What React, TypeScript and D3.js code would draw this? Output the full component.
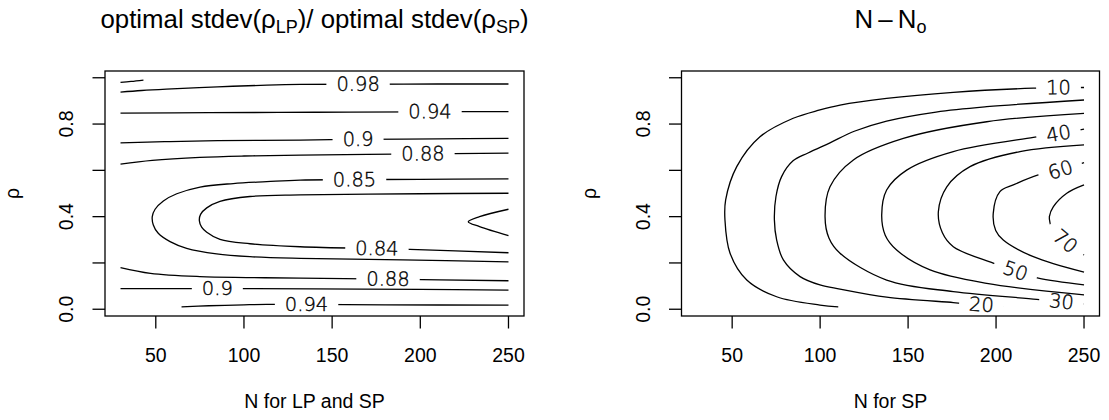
import React from "react";
import * as d3 from "d3";

type Pt = [number, number];

// ---------- data ----------
const N_RANGE: Pt = [30, 250];
const RHO_RANGE: Pt = [0.01, 0.99];
const X_TICKS = [50, 100, 150, 200, 250];
const Y_TICKS = [0, 0.2, 0.4, 0.6, 0.8, 1.0];
const Y_TICK_LABELS = ["0.0", "", "0.4", "", "0.8", ""];

// Left panel: optimal stdev ratio contours (N, rho)
const ratio099: Pt[] = [[30, 0.98], [36, 0.984], [43, 0.99]];
const ratio098: Pt[] = [[30, 0.938], [42, 0.945], [56, 0.951], [85, 0.961], [113, 0.968], [132, 0.971], [165, 0.972], [210, 0.973], [250, 0.973]];
const ratio094Upper: Pt[] = [[30, 0.847], [80, 0.849], [140, 0.851], [200, 0.853], [250, 0.854]];
const ratio090Upper: Pt[] = [[30, 0.719], [55, 0.724], [85, 0.728], [132, 0.731], [165, 0.734], [210, 0.736], [250, 0.738]];
const ratio088Upper: Pt[] = [[30, 0.627], [48, 0.643], [75, 0.656], [100, 0.662], [132, 0.666], [200, 0.671], [250, 0.674]];
const ratio085: Pt[] = [[250, 0.563], [200, 0.561], [131.8, 0.558], [112.9, 0.551], [93.9, 0.543], [75.1, 0.528], [61.9, 0.499], [54.3, 0.468], [49.6, 0.432], [48.0, 0.4], [48.6, 0.364], [51.4, 0.328], [58.1, 0.292], [67.5, 0.263], [84.5, 0.239], [103.4, 0.227], [131.8, 0.22], [190, 0.213], [250, 0.205]];
const ratio084: Pt[] = [[250, 0.501], [200, 0.499], [131.8, 0.494], [103.4, 0.487], [86.4, 0.466], [78.9, 0.438], [75.4, 0.41], [74.7, 0.383], [76, 0.355], [78.9, 0.333], [86.4, 0.302], [103.4, 0.283], [131.8, 0.27], [175, 0.262], [194.1, 0.259], [250, 0.244]];
const ratio083: Pt[] = [[250, 0.432], [233.6, 0.4], [227.2, 0.378], [233.6, 0.357], [250, 0.318]];
const ratio088Lower: Pt[] = [[30, 0.18], [47, 0.155], [75, 0.141], [103, 0.137], [132, 0.134], [181.7, 0.13], [250, 0.123]];
const ratio090Lower: Pt[] = [[30, 0.089], [85, 0.089], [140, 0.088], [200, 0.086], [250, 0.083]];
const ratio094Lower: Pt[] = [[64.6, 0.01], [80, 0.015], [100, 0.019], [113, 0.021], [135.5, 0.021], [180, 0.019], [250, 0.018]];

// Right panel: N - No contours (N, rho)
const diff10: Pt[] = [[250, 0.958], [235.5, 0.957], [221.2, 0.955], [175.7, 0.937], [137.8, 0.911], [111.3, 0.882], [99.9, 0.861], [84.7, 0.825], [65.8, 0.745], [52.6, 0.616], [46.3, 0.472], [45.9, 0.386], [48.8, 0.242], [58.3, 0.126], [75.3, 0.054], [99.9, 0.018], [110.3, 0.01]];
const diff20: Pt[] = [[250, 0.904], [194.7, 0.875], [165.9, 0.852], [137.8, 0.813], [119.8, 0.77], [105.6, 0.719], [93.1, 0.675], [84.6, 0.641], [78.1, 0.573], [74.9, 0.487], [74.0, 0.386], [75.3, 0.299], [79.1, 0.213], [88.6, 0.141], [99.9, 0.105], [111.3, 0.087], [137.8, 0.052], [175.7, 0.029], [181, 0.025], [191.7, 0.019], [204, 0.01]];
const diff30: Pt[] = [[250, 0.846], [194.7, 0.81], [147.3, 0.738], [118.9, 0.645], [105.6, 0.529], [102.8, 0.399], [105.0, 0.308], [111.3, 0.242], [137.8, 0.126], [175.7, 0.076], [223.1, 0.043], [237.2, 0.032], [250, 0.023]];
const diff40: Pt[] = [[250, 0.778], [235.5, 0.758], [221.2, 0.742], [175.7, 0.681], [149.2, 0.601], [137.8, 0.515], [135.0, 0.407], [137, 0.32], [143.5, 0.256], [162.5, 0.17], [194.7, 0.112], [250, 0.062]];
const diff50: Pt[] = [[250, 0.71], [213.6, 0.681], [185.2, 0.616], [172.0, 0.529], [167.2, 0.421], [169.5, 0.33], [175.7, 0.27], [198.4, 0.199], [211, 0.165], [224.0, 0.134], [250, 0.105]];
const diff60: Pt[] = [[250, 0.633], [236.6, 0.601], [224.0, 0.58], [209.8, 0.537], [202.2, 0.508], [198.4, 0.414], [199.8, 0.34], [204.1, 0.299], [221.2, 0.227], [250, 0.16]];
const diff70: Pt[] = [[250, 0.537], [240.2, 0.501], [232.6, 0.443], [230.3, 0.4], [230.7, 0.372], [231.8, 0.351], [236.9, 0.308], [243.7, 0.265], [250, 0.235]];

interface Contour { pts: Pt[]; text?: string; at?: Pt }

const LEFT_CONTOURS: Contour[] = [
  { pts: ratio099 },
  { pts: ratio098, text: "0.98", at: [164.7, 0.971] },
  { pts: ratio094Upper, text: "0.94", at: [205.5, 0.853] },
  { pts: ratio090Upper, text: "0.9", at: [164.7, 0.734] },
  { pts: ratio088Upper, text: "0.88", at: [201.5, 0.671] },
  { pts: ratio085, text: "0.85", at: [162.7, 0.558] },
  { pts: ratio084, text: "0.84", at: [175.4, 0.262] },
  { pts: ratio083 },
  { pts: ratio088Lower, text: "0.88", at: [181.7, 0.13] },
  { pts: ratio090Lower, text: "0.9", at: [84.9, 0.088] },
  { pts: ratio094Lower, text: "0.94", at: [135.5, 0.021] },
];

const RIGHT_CONTOURS: Contour[] = [
  { pts: diff10, text: "10", at: [235.5, 0.957] },
  { pts: diff20, text: "20", at: [191.7, 0.019] },
  { pts: diff30, text: "30", at: [237.2, 0.032] },
  { pts: diff40, text: "40", at: [235.5, 0.758] },
  { pts: diff50, text: "50", at: [211, 0.165] },
  { pts: diff60, text: "60", at: [236.6, 0.601] },
  { pts: diff70, text: "70", at: [239.5, 0.295] },
];

// ---------- layout ----------
const W = 1109;
const H = 420;
const PLOT_TOP = 71;
const PLOT_BOTTOM = 316;
const SANS = "'Liberation Sans', Arial, Helvetica, sans-serif";
const LABEL_FONT = "'DejaVu Sans', sans-serif";
const AXIS_FS = 19.5;
const LABEL_FS = 19.5;
const TITLE_FS = 25.8;
const SUB_FS = 18;

function pad(r: Pt): Pt {
  const d = (r[1] - r[0]) * 0.04;
  return [r[0] - d, r[1] + d];
}

function labelWidth(t: string) {
  let w = 0;
  for (const c of t) w += c === "." ? 0.318 : 0.636;
  return w * LABEL_FS;
}

function placeOn(px: Pt[], p: Pt) {
  let best = { d: Infinity, x: p[0], y: p[1], ang: 0 };
  for (let i = 0; i < px.length - 1; i++) {
    const [ax, ay] = px[i];
    const [bx, by] = px[i + 1];
    const dx = bx - ax, dy = by - ay;
    const L = dx * dx + dy * dy;
    let t = L > 0 ? ((p[0] - ax) * dx + (p[1] - ay) * dy) / L : 0;
    t = Math.max(0, Math.min(1, t));
    const qx = ax + t * dx, qy = ay + t * dy;
    const d = Math.hypot(p[0] - qx, p[1] - qy);
    if (d < best.d) {
      let ang = (Math.atan2(dy, dx) * 180) / Math.PI;
      if (ang > 90) ang -= 180;
      if (ang < -90) ang += 180;
      best = { d, x: qx, y: qy, ang };
    }
  }
  return best;
}

function Panel({ id, x0, x1, contours, xlab, title }: { id: string; x0: number; x1: number; contours: Contour[]; xlab: string; title: React.ReactNode }) {
  const x = d3.scaleLinear().domain(pad(N_RANGE)).range([x0, x1]);
  const y = d3.scaleLinear().domain(pad(RHO_RANGE)).range([PLOT_BOTTOM, PLOT_TOP]);
  const line = d3
    .line<Pt>()
    .x((d) => x(d[0]))
    .y((d) => y(d[1]))
    .curve(d3.curveCatmullRom.alpha(0.5));
  const cx = (x0 + x1) / 2;
  const cy = (PLOT_TOP + PLOT_BOTTOM) / 2;

  return (
    <g>
      {title}
      {contours.map((c, i) => {
        const pix: Pt[] = c.pts.map((d) => [x(d[0]), y(d[1])]);
        const lab = c.text && c.at ? placeOn(pix, [x(c.at[0]), y(c.at[1])]) : null;
        const mid = `${id}-m${i}`;
        const tw = c.text ? labelWidth(c.text) : 0;
        return (
          <g key={i}>
            {lab && (
              <mask id={mid} maskUnits="userSpaceOnUse" x={0} y={0} width={W} height={H}>
                <rect x={0} y={0} width={W} height={H} fill="white" />
                <rect
                  x={-(tw + 20) / 2}
                  y={-7.5}
                  width={tw + 20}
                  height={15}
                  fill="black"
                  transform={`translate(${lab.x},${lab.y}) rotate(${lab.ang})`}
                />
              </mask>
            )}
            <path
              d={line(c.pts) || ""}
              fill="none"
              stroke="#000"
              strokeWidth={1.3}
              mask={lab ? `url(#${mid})` : undefined}
            />
            {lab && (
              <text
                transform={`translate(${lab.x},${lab.y}) rotate(${lab.ang})`}
                textAnchor="middle"
                dominantBaseline="central"
                fontFamily={LABEL_FONT}
                fontWeight={200}
                fontSize={LABEL_FS}
                fill="#000"
                stroke="#000"
                strokeWidth={0.35}
              >
                {c.text}
              </text>
            )}
          </g>
        );
      })}
      <rect x={x0} y={PLOT_TOP} width={x1 - x0} height={PLOT_BOTTOM - PLOT_TOP} fill="none" stroke="#000" strokeWidth={1.3} />
      {X_TICKS.map((t) => (
        <g key={t}>
          <line x1={x(t)} x2={x(t)} y1={PLOT_BOTTOM} y2={PLOT_BOTTOM + 12.5} stroke="#000" strokeWidth={1.3} />
          <text x={x(t)} y={362} textAnchor="middle" fontFamily={SANS} fontSize={AXIS_FS}>
            {t}
          </text>
        </g>
      ))}
      {Y_TICKS.map((t, i) => (
        <g key={t}>
          <line x1={x0} x2={x0 - 12.5} y1={y(t)} y2={y(t)} stroke="#000" strokeWidth={1.3} />
          {Y_TICK_LABELS[i] && (
            <text
              transform={`translate(${x0 - 32},${y(t)}) rotate(-90)`}
              textAnchor="middle"
              fontFamily={SANS}
              fontSize={AXIS_FS}
            >
              {Y_TICK_LABELS[i]}
            </text>
          )}
        </g>
      ))}
      <text x={cx} y={408} textAnchor="middle" fontFamily={SANS} fontSize={AXIS_FS}>
        {xlab}
      </text>
      <text transform={`translate(${x0 - 86},${cy}) rotate(-90)`} textAnchor="middle" fontFamily={SANS} fontSize={AXIS_FS}>
        ρ
      </text>
    </g>
  );
}

export default function App() {
  const leftX: Pt = [105, 524];
  const rightX: Pt = [681.5, 1099.5];
  const leftTitle = (
    <text x={(leftX[0] + leftX[1]) / 2} y={28} textAnchor="middle" fontFamily={SANS} fontSize={TITLE_FS}>
      <tspan>optimal stdev(ρ</tspan>
      <tspan dy={5} fontSize={SUB_FS}>LP</tspan>
      <tspan dy={-5}>)/ optimal stdev(ρ</tspan>
      <tspan dy={5} fontSize={SUB_FS}>SP</tspan>
      <tspan dy={-5}>)</tspan>
    </text>
  );
  const rightTitle = (
    <text x={(rightX[0] + rightX[1]) / 2} y={28} textAnchor="middle" fontFamily={SANS} fontSize={TITLE_FS}>
      <tspan>{"N\u2009–\u2009N"}</tspan>
      <tspan dy={5} fontSize={SUB_FS}>o</tspan>
    </text>
  );
  return (
    <svg width={W} height={H} style={{ display: "block", position: "absolute", left: 0, top: 0, background: "#fff" }}>
      <rect x={0} y={0} width={W} height={H} fill="#fff" />
      <Panel id="lp" x0={leftX[0]} x1={leftX[1]} contours={LEFT_CONTOURS} xlab="N for LP and SP" title={leftTitle} />
      <Panel id="rp" x0={rightX[0]} x1={rightX[1]} contours={RIGHT_CONTOURS} xlab="N for SP" title={rightTitle} />
    </svg>
  );
}
